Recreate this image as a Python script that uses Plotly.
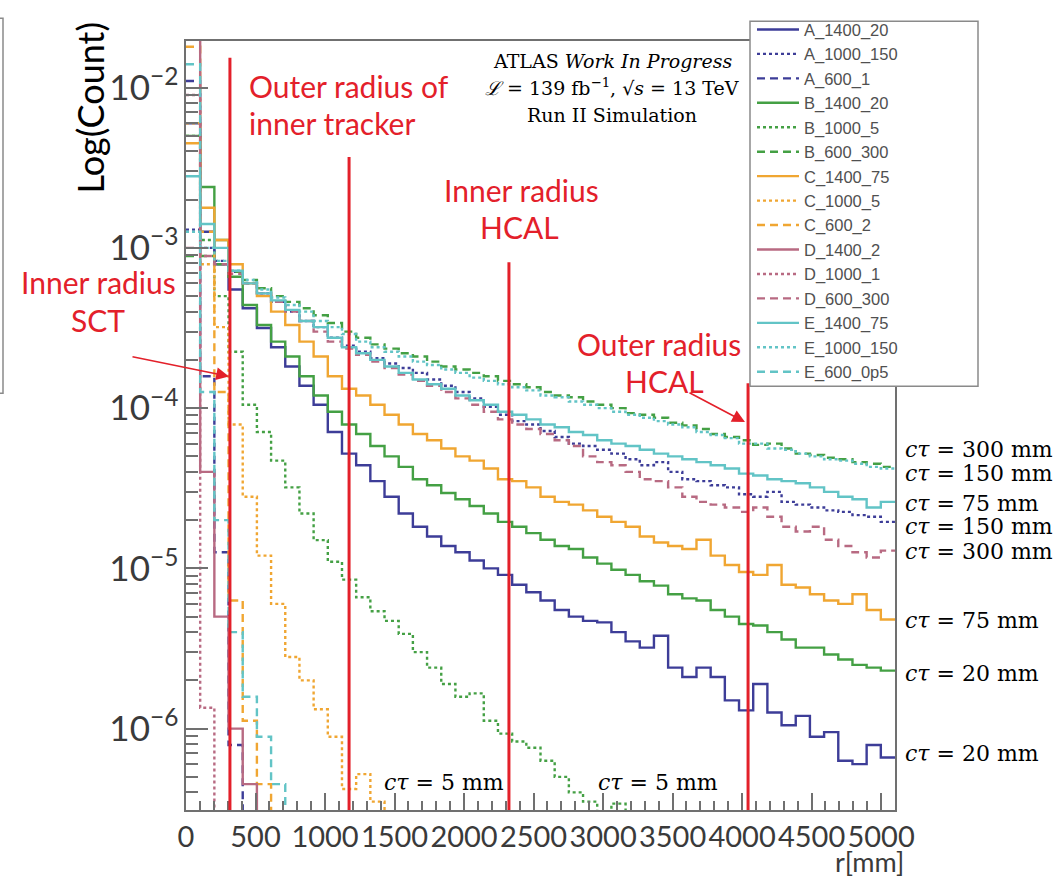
import plotly.graph_objects as go

# ---------------- data (normalised counts per bin; histogram axis 0 - 5100 mm, 50 bins) ----------------
R_MAX = 5100
N_BINS = 50
BIN_WIDTH = R_MAX / N_BINS
Y_FLOOR = 1e-9  # used only to close short histograms below the axis

A_1400_20 = [6.0e-3, 1.26e-3, 7.9e-4, 5.5e-4, 4.2e-4, 3.16e-4, 2.4e-4, 1.82e-4, 1.38e-4, 1.05e-4,
             7.1e-5, 5.2e-5, 4.4e-5, 3.5e-5, 2.8e-5, 2.2e-5, 1.82e-5, 1.58e-5, 1.38e-5, 1.26e-5,
             1.12e-5, 1.0e-5, 9.1e-6, 7.9e-6, 7.1e-6, 6.3e-6, 5.5e-6, 5.0e-6, 4.7e-6, 4.6e-6,
             4.0e-6, 3.5e-6, 3.2e-6, 3.8e-6, 2.4e-6, 2.1e-6, 2.4e-6, 2.1e-6, 1.5e-6, 1.3e-6,
             1.9e-6, 1.26e-6, 1.05e-6, 1.2e-6, 8.9e-7, 9.5e-7, 6.3e-7, 6.0e-7, 7.9e-7, 6.6e-7]
A_1000_150 = [1.3e-3, 1.0e-3, 8.3e-4, 7.1e-4, 6.0e-4, 5.2e-4, 4.6e-4, 4.0e-4, 3.5e-4, 3.2e-4,
              2.75e-4, 2.45e-4, 2.25e-4, 2.05e-4, 1.9e-4, 1.78e-4, 1.66e-4, 1.51e-4, 1.38e-4, 1.26e-4,
              1.15e-4, 1.02e-4, 9.1e-5, 8.3e-5, 7.9e-5, 7.2e-5, 6.6e-5, 6.0e-5, 5.8e-5, 5.5e-5,
              5.2e-5, 4.8e-5, 4.4e-5, 4.6e-5, 4.0e-5, 3.6e-5, 3.5e-5, 3.3e-5, 3.2e-5, 2.9e-5,
              2.8e-5, 3.0e-5, 2.6e-5, 2.5e-5, 2.4e-5, 2.3e-5, 2.25e-5, 2.15e-5, 2.1e-5, 1.95e-5]
A_600_1 = [1.1e-2, 1.58e-4, 1.26e-5, 7.9e-7]

B_1400_20 = [5.0e-3, 2.4e-3, 1.12e-3, 6.6e-4, 4.4e-4, 3.3e-4, 2.6e-4, 2.1e-4, 1.58e-4, 1.2e-4,
             9.5e-5, 7.9e-5, 6.9e-5, 5.8e-5, 5.0e-5, 4.3e-5, 3.6e-5, 3.3e-5, 2.95e-5, 2.7e-5,
             2.45e-5, 2.2e-5, 1.95e-5, 1.82e-5, 1.66e-5, 1.51e-5, 1.38e-5, 1.32e-5, 1.17e-5, 1.07e-5,
             9.8e-6, 9.1e-6, 8.3e-6, 7.8e-6, 6.9e-6, 6.5e-6, 6.3e-6, 5.5e-6, 5.0e-6, 4.5e-6,
             4.4e-6, 4.0e-6, 3.6e-6, 3.2e-6, 3.2e-6, 2.9e-6, 2.7e-6, 2.5e-6, 2.4e-6, 2.3e-6]
B_1000_5 = [5.0e-3, 1.12e-3, 5.0e-4, 2.25e-4, 1.05e-4, 7.1e-5, 4.7e-5, 3.2e-5, 2.2e-5, 1.5e-5,
            1.1e-5, 8.5e-6, 6.6e-6, 5.4e-6, 4.7e-6, 3.9e-6, 3.0e-6, 2.4e-6, 1.9e-6, 1.58e-6,
            1.66e-6, 1.12e-6, 9.3e-7, 8.3e-7, 7.6e-7, 6.3e-7, 5.0e-7, 4.0e-7, 3.5e-7, 2.8e-7,
            3.4e-7]
B_600_300 = [8.9e-4, 8.9e-4, 7.9e-4, 7.1e-4, 6.3e-4, 5.6e-4, 5.0e-4, 4.6e-4, 4.2e-4, 3.8e-4,
             3.4e-4, 3.0e-4, 2.75e-4, 2.5e-4, 2.35e-4, 2.2e-4, 2.1e-4, 1.95e-4, 1.82e-4, 1.74e-4,
             1.66e-4, 1.58e-4, 1.48e-4, 1.41e-4, 1.35e-4, 1.26e-4, 1.2e-4, 1.17e-4, 1.1e-4, 1.05e-4,
             1.0e-4, 9.3e-5, 9.1e-5, 8.7e-5, 8.1e-5, 7.8e-5, 7.4e-5, 6.9e-5, 6.6e-5, 6.3e-5,
             5.9e-5, 6.0e-5, 5.6e-5, 5.2e-5, 5.1e-5, 4.9e-5, 4.8e-5, 4.6e-5, 4.5e-5, 4.3e-5]

C_1400_75 = [4.5e-3, 1.78e-3, 1.12e-3, 7.9e-4, 6.0e-4, 5.0e-4, 4.0e-4, 3.3e-4, 2.6e-4, 2.1e-4,
             1.58e-4, 1.32e-4, 1.2e-4, 1.05e-4, 9.1e-5, 7.9e-5, 6.9e-5, 6.3e-5, 5.6e-5, 5.0e-5,
             4.7e-5, 4.2e-5, 3.6e-5, 3.5e-5, 3.2e-5, 2.8e-5, 2.6e-5, 2.5e-5, 2.3e-5, 2.1e-5,
             1.95e-5, 1.82e-5, 1.58e-5, 1.45e-5, 1.38e-5, 1.32e-5, 1.51e-5, 1.2e-5, 1.05e-5, 9.5e-6,
             9.1e-6, 1.05e-5, 7.9e-6, 7.6e-6, 6.9e-6, 6.3e-6, 6.0e-6, 6.9e-6, 5.5e-6, 4.8e-6]
C_1000_5 = [6.0e-3, 7.9e-4, 3.2e-4, 7.9e-5, 2.8e-5, 1.2e-5, 6.0e-6, 2.8e-6, 2.0e-6, 1.32e-6,
            8.9e-7, 4.2e-7, 5.2e-7, 3.5e-7]
C_600_2 = [1.8e-2, 1.26e-3, 1.26e-4, 6.3e-6, 1.12e-6, 4.5e-7]

D_1400_2 = [2.5e-2, 4.0e-5, 5.0e-6, 1.0e-6, 4.5e-7]
D_1000_1 = [9.0e-3, 1.35e-6]
D_600_300 = [1.0e-3, 8.9e-4, 7.9e-4, 6.9e-4, 6.0e-4, 5.2e-4, 4.6e-4, 4.0e-4, 3.5e-4, 3.0e-4,
             2.6e-4, 2.35e-4, 2.15e-4, 1.95e-4, 1.78e-4, 1.62e-4, 1.48e-4, 1.38e-4, 1.26e-4, 1.15e-4,
             1.05e-4, 9.5e-5, 8.5e-5, 7.9e-5, 7.4e-5, 6.9e-5, 6.3e-5, 5.8e-5, 5.0e-5, 4.6e-5,
             4.4e-5, 4.0e-5, 3.6e-5, 3.5e-5, 3.2e-5, 2.8e-5, 2.6e-5, 2.5e-5, 2.4e-5, 2.25e-5,
             2.4e-5, 2.1e-5, 1.82e-5, 1.7e-5, 1.82e-5, 1.51e-5, 1.38e-5, 1.26e-5, 1.17e-5, 1.29e-5]

E_1400_75 = [2.8e-3, 1.41e-3, 1.0e-3, 7.2e-4, 6.0e-4, 5.2e-4, 4.7e-4, 4.1e-4, 3.5e-4, 3.2e-4,
             2.75e-4, 2.4e-4, 2.2e-4, 2.0e-4, 1.82e-4, 1.66e-4, 1.51e-4, 1.41e-4, 1.32e-4, 1.2e-4,
             1.12e-4, 1.05e-4, 9.5e-5, 9.1e-5, 8.5e-5, 7.9e-5, 7.6e-5, 7.1e-5, 6.8e-5, 6.3e-5,
             6.0e-5, 5.8e-5, 5.5e-5, 5.2e-5, 5.0e-5, 4.8e-5, 4.6e-5, 4.4e-5, 4.2e-5, 3.9e-5,
             3.8e-5, 3.6e-5, 3.5e-5, 3.4e-5, 3.2e-5, 3.0e-5, 2.8e-5, 2.7e-5, 2.4e-5, 2.6e-5]
E_1000_150 = [1.26e-3, 1.0e-3, 8.3e-4, 7.2e-4, 6.3e-4, 5.5e-4, 4.9e-4, 4.4e-4, 4.0e-4, 3.5e-4,
              3.2e-4, 2.9e-4, 2.6e-4, 2.4e-4, 2.25e-4, 2.1e-4, 1.95e-4, 1.86e-4, 1.74e-4, 1.66e-4,
              1.55e-4, 1.48e-4, 1.41e-4, 1.35e-4, 1.29e-4, 1.2e-4, 1.17e-4, 1.1e-4, 1.05e-4, 1.0e-4,
              9.5e-5, 9.1e-5, 8.7e-5, 8.3e-5, 7.9e-5, 7.6e-5, 7.1e-5, 6.8e-5, 6.5e-5, 6.0e-5,
              6.0e-5, 5.6e-5, 5.5e-5, 5.2e-5, 5.0e-5, 4.8e-5, 4.7e-5, 4.5e-5, 4.3e-5, 4.2e-5]
E_600_0p5 = [1.4e-2, 1.26e-4, 2.0e-5, 4.0e-6, 1.58e-6, 8.9e-7, 4.5e-7]

SERIES = [
    ("A_1400_20", A_1400_20), ("A_1000_150", A_1000_150), ("A_600_1", A_600_1),
    ("B_1400_20", B_1400_20), ("B_1000_5", B_1000_5), ("B_600_300", B_600_300),
    ("C_1400_75", C_1400_75), ("C_1000_5", C_1000_5), ("C_600_2", C_600_2),
    ("D_1400_2", D_1400_2), ("D_1000_1", D_1000_1), ("D_600_300", D_600_300),
    ("E_1400_75", E_1400_75), ("E_1000_150", E_1000_150), ("E_600_0p5", E_600_0p5),
]

DETECTOR_R = [316, 1173, 2323, 4043]   # mm: SCT inner, tracker outer, HCAL inner, HCAL outer
X_TICKS = [0, 500, 1000, 1500, 2000, 2500, 3000, 3500, 4000, 4500, 5000]

CT_LABELS = ["300 mm", "150 mm", "75 mm", "150 mm", "300 mm", "75 mm", "20 mm", "20 mm"]

# ---------------- styles ----------------
FAMILY_COLORS = {"A": "#3d3d98", "B": "#44a044", "C": "#f0a632", "D": "#b86a82", "E": "#62c4c6"}
DASHES = ["solid", "3px,3px", "8px,5px"]   # 1400 solid, 1000 dotted, 600 dashed

W, H = 1061, 881
PX_L, PX_R, PX_T, PX_B = 186, 895, 35, 810


def px_x(x):
    return (x - PX_L) / (PX_R - PX_L)


def px_y(y):
    return (PX_B - y) / (PX_B - PX_T)


fig = go.Figure()

for idx, (name, vals) in enumerate(SERIES):
    n = len(vals)
    xs = [i * BIN_WIDTH for i in range(n)]
    ys = list(vals)
    xs.append(n * BIN_WIDTH)
    ys.append(vals[-1] if n >= N_BINS else Y_FLOOR)
    fig.add_trace(go.Scatter(
        x=xs, y=ys, mode="lines", name=name,
        line=dict(shape="hv", color=FAMILY_COLORS[name[0]], width=2.4, dash=DASHES[idx % 3]),
        hoverinfo="skip",
    ))

AXIS_COL = "#707070"
TICK_FONT = dict(family="Lato, Open Sans, sans-serif", size=29, color="#3a3a3a")

fig.update_xaxes(
    range=[0, R_MAX], tickvals=X_TICKS, ticktext=[str(v) for v in X_TICKS],
    ticks="inside", ticklen=17, tickwidth=1.5, tickcolor=AXIS_COL, tickangle=0,
    minor=dict(ticks="inside", ticklen=9, tickwidth=1.5, tickcolor=AXIS_COL, dtick=100, tick0=0,
               showgrid=False),
    showline=True, linecolor=AXIS_COL, linewidth=2, mirror=True,
    showgrid=False, zeroline=False, tickfont=TICK_FONT,
)
fig.update_yaxes(
    type="log", range=[-6.508, -1.709], dtick=1, exponentformat="power",
    ticks="inside", ticklen=22, tickwidth=1.5, tickcolor=AXIS_COL,
    minor=dict(ticks="inside", ticklen=12, tickwidth=1.5, tickcolor=AXIS_COL, dtick="D1", showgrid=False),
    showline=True, linecolor=AXIS_COL, linewidth=2, mirror=True,
    showgrid=False, zeroline=False, tickfont=dict(TICK_FONT, size=28),
)

RED = "#e3202a"
shapes = []
tops = [52, 152, 258, 380]
for r, top in zip(DETECTOR_R, tops):
    shapes.append(dict(type="line", xref="x", yref="paper", x0=r, x1=r, y0=0, y1=px_y(top),
                       line=dict(color=RED, width=3), layer="above"))
# legend box
shapes.append(dict(type="rect", xref="paper", yref="paper", x0=px_x(750), x1=px_x(978),
                   y0=px_y(383), y1=px_y(15), fillcolor="white",
                   line=dict(color="#8a8a8a", width=1.5), layer="above"))
# partial frame at the very left edge of the picture
shapes.append(dict(type="path", xref="paper", yref="paper",
                   path=f"M {px_x(-10)} {px_y(12)} L {px_x(3)} {px_y(12)} L {px_x(3)} {px_y(390)} L {px_x(-10)} {px_y(390)}",
                   line=dict(color="#8a8a8a", width=1.5)))

ann = []


def text(x, y, s, size, color, family, xanchor="center", angle=0):
    ann.append(dict(x=px_x(x), y=px_y(y), xref="paper", yref="paper", text=s, showarrow=False,
                    xanchor=xanchor, yanchor="middle", textangle=angle,
                    font=dict(size=size, color=color, family=family)))


GILL = "Lato, Open Sans, sans-serif"
SERIF = "DejaVu Serif, Liberation Serif, serif"

text(90, 102, "Log(Count)", 36, "black", GILL, angle=-90)
text(906, 862, "r[mm]", 27, "#3a3a3a", GILL, xanchor="right")

text(247, 80, "Outer radius of", 30, RED, GILL, xanchor="left")
text(247, 118, "inner tracker", 30, RED, GILL, xanchor="left")
text(521, 185, "Inner radius", 30, RED, GILL)
text(519, 222, "HCAL", 30, RED, GILL)
text(659, 340, "Outer radius", 30, RED, GILL)
text(664, 378, "HCAL", 30, RED, GILL)
text(98, 278, "Inner radius", 30, RED, GILL)
text(98, 316, "SCT", 30, RED, GILL)

text(612, 55, "ATLAS <i>Work In Progress</i>", 19, "black", SERIF)
text(612, 81, "<i>ℒ</i> = 139 fb<sup>−1</sup>, √<i>s</i> = 13 TeV", 19, "black", SERIF)
text(612, 110, "Run II Simulation", 19, "black", SERIF)

ct_y = [447, 471, 501, 524, 549, 619, 672, 753]
for lab, yy in zip(CT_LABELS, ct_y):
    text(903, yy, "<i>cτ</i> = " + lab, 22, "black", SERIF, xanchor="left")
text(444, 782, "<i>cτ</i> = 5 mm", 22, "black", SERIF)
text(658, 782, "<i>cτ</i> = 5 mm", 22, "black", SERIF)

# arrows
for hx, hy, ax, ay in [(229, 373, -98, -20), (745, 419, -57, -30)]:
    ann.append(dict(x=px_x(hx), y=px_y(hy), xref="paper", yref="paper", text="", showarrow=True,
                    ax=ax, ay=ay, arrowhead=2, arrowsize=1.6, arrowwidth=1.6, arrowcolor=RED))

fig.update_layout(
    width=W, height=H, autosize=False,
    margin=dict(l=PX_L, r=W - PX_R, t=PX_T, b=H - PX_B),
    paper_bgcolor="white", plot_bgcolor="white",
    shapes=shapes, annotations=ann,
    showlegend=True,
    legend=dict(x=px_x(752), y=px_y(6), xanchor="left", yanchor="top",
                bgcolor="rgba(0,0,0,0)", borderwidth=0, itemwidth=42,
                font=dict(family="Liberation Sans, Arial, sans-serif", size=16.5, color="#505050"),
                tracegroupgap=0),
)

fig.write_html("out.html")
